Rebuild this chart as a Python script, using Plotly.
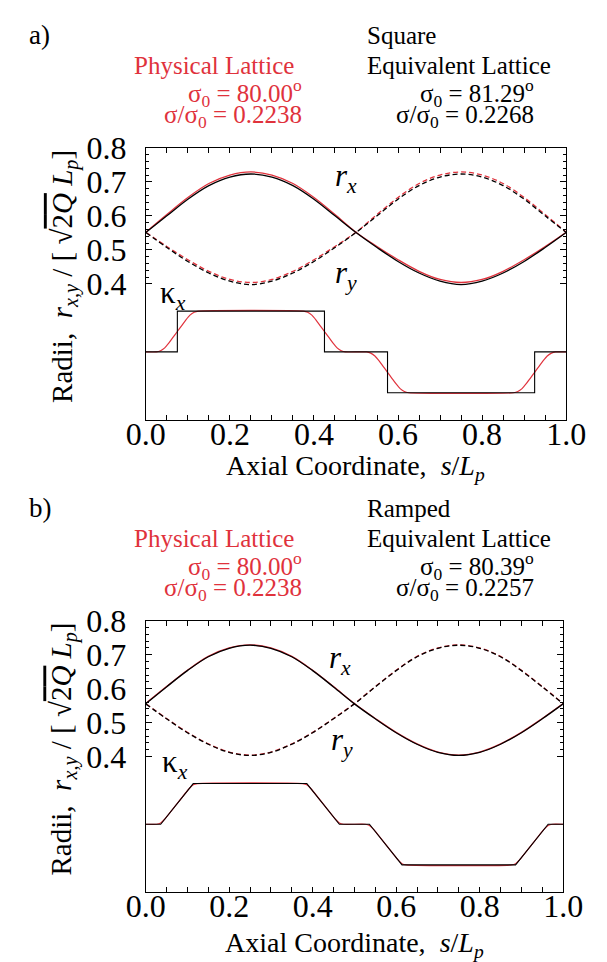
import plotly.graph_objects as go

# ---------------------------------------------------------------
# Envelope radii r_x, r_y in units of sqrt(2Q) L_p over one lattice period
# ---------------------------------------------------------------
s_env = [0.00, 0.05, 0.10, 0.15, 0.20, 0.25, 0.30, 0.35, 0.40, 0.45, 0.50,
         0.55, 0.60, 0.65, 0.70, 0.75, 0.80, 0.85, 0.90, 0.95, 1.00]

# (a) square-edged equivalent lattice vs. physical lattice
a_rx_eq = [0.551, 0.600, 0.649, 0.689, 0.714, 0.723, 0.714, 0.689, 0.649, 0.600, 0.551,
           0.507, 0.466, 0.432, 0.408, 0.398, 0.408, 0.432, 0.466, 0.507, 0.551]
a_ry_eq = [0.551, 0.507, 0.466, 0.432, 0.408, 0.398, 0.408, 0.432, 0.466, 0.507, 0.551,
           0.600, 0.649, 0.689, 0.714, 0.723, 0.714, 0.689, 0.649, 0.600, 0.551]
a_rx_ph = [0.552, 0.604, 0.654, 0.695, 0.720, 0.729, 0.720, 0.695, 0.654, 0.604, 0.552,
           0.510, 0.471, 0.437, 0.413, 0.404, 0.413, 0.437, 0.471, 0.510, 0.552]
a_ry_ph = [0.552, 0.510, 0.471, 0.437, 0.413, 0.404, 0.413, 0.437, 0.471, 0.510, 0.552,
           0.604, 0.654, 0.695, 0.720, 0.729, 0.720, 0.695, 0.654, 0.604, 0.552]

# (b) ramped equivalent lattice vs. physical lattice
b_rx_eq = [0.555, 0.605, 0.653, 0.694, 0.719, 0.728, 0.719, 0.694, 0.653, 0.605, 0.555,
           0.511, 0.470, 0.436, 0.412, 0.403, 0.412, 0.436, 0.470, 0.511, 0.555]
b_ry_eq = [0.555, 0.511, 0.470, 0.436, 0.412, 0.403, 0.412, 0.436, 0.470, 0.511, 0.555,
           0.605, 0.653, 0.694, 0.719, 0.728, 0.719, 0.694, 0.653, 0.605, 0.555]
b_rx_ph = [0.556, 0.606, 0.654, 0.695, 0.720, 0.729, 0.720, 0.695, 0.654, 0.606, 0.556,
           0.512, 0.471, 0.437, 0.413, 0.404, 0.413, 0.437, 0.471, 0.512, 0.556]
b_ry_ph = [0.556, 0.512, 0.471, 0.437, 0.413, 0.404, 0.413, 0.437, 0.471, 0.512, 0.556,
           0.606, 0.654, 0.695, 0.720, 0.729, 0.720, 0.695, 0.654, 0.606, 0.556]

# ---------------------------------------------------------------
# Focusing function kappa_x, normalised to its peak value
# ---------------------------------------------------------------
# (a) hard-edge (square) equivalent: step function
a_kap_eq_s = [0.0, 0.075, 0.425, 0.575, 0.925, 1.0]
a_kap_eq = [0, 1, 0, -1, 0, 0]
# (a) physical lattice with smooth fringe fields
a_kap_ph_s = [0.0, 0.025, 0.035, 0.045, 0.055, 0.065, 0.075, 0.085, 0.095, 0.105, 0.115, 0.125,
              0.375, 0.385, 0.395, 0.405, 0.415, 0.425, 0.435, 0.445, 0.455, 0.465, 0.475,
              0.525, 0.535, 0.545, 0.555, 0.565, 0.575, 0.585, 0.595, 0.605, 0.615, 0.625,
              0.875, 0.885, 0.895, 0.905, 0.915, 0.925, 0.935, 0.945, 0.955, 0.965, 0.975, 1.0]
a_kap_ph = [0, 0, 0.03, 0.10, 0.22, 0.36, 0.50, 0.64, 0.78, 0.90, 0.97, 1,
            1, 0.97, 0.90, 0.78, 0.64, 0.50, 0.36, 0.22, 0.10, 0.03, 0,
            0, -0.03, -0.10, -0.22, -0.36, -0.50, -0.64, -0.78, -0.90, -0.97, -1,
            -1, -0.97, -0.90, -0.78, -0.64, -0.50, -0.36, -0.22, -0.10, -0.03, 0, 0]
# (b) ramped equivalent: trapezoids
b_kap_eq_s = [0.0, 0.036, 0.114, 0.386, 0.464, 0.536, 0.614, 0.886, 0.964, 1.0]
b_kap_eq = [0, 0, 1, 1, 0, 0, -1, -1, 0, 0]
# (b) physical lattice (rounded corners)
b_kap_ph_s = [0.0, 0.026, 0.036, 0.046, 0.104, 0.114, 0.124, 0.376, 0.386, 0.396, 0.454, 0.464, 0.474,
              0.526, 0.536, 0.546, 0.604, 0.614, 0.624, 0.876, 0.886, 0.896, 0.954, 0.964, 0.974, 1.0]
b_kap_ph = [0, 0, 0.03, 0.128, 0.872, 0.97, 1, 1, 0.97, 0.872, 0.128, 0.03, 0,
            0, -0.03, -0.128, -0.872, -0.97, -1, -1, -0.97, -0.872, -0.128, -0.03, 0, 0]

# Axis ticks
x_ticks = [0.0, 0.2, 0.4, 0.6, 0.8, 1.0]
x_ticktext = ["0.0", "0.2", "0.4", "0.6", "0.8", "1.0"]
y_ticks = [0.4, 0.5, 0.6, 0.7, 0.8]
y_ticktext = ["0.4", "0.5", "0.6", "0.7", "0.8"]
y_minor = [0.42, 0.44, 0.46, 0.48, 0.52, 0.54, 0.56, 0.58,
           0.62, 0.64, 0.66, 0.68, 0.72, 0.74, 0.76, 0.78]

# Header text
headers = {
    "a": dict(tag="a)", eq_name="Square", ph_sigma0="80.00", ph_ratio="0.2238",
              eq_sigma0="81.29", eq_ratio="0.2268"),
    "b": dict(tag="b)", eq_name="Ramped", ph_sigma0="80.00", ph_ratio="0.2238",
              eq_sigma0="80.39", eq_ratio="0.2257"),
}

# ---------------------------------------------------------------
W, H = 607, 962
RED = "#e0323c"
BLACK = "#000000"
FONT = "Times New Roman"


def fx(px):
    return px / W


def fy(py):
    return 1 - py / H


fig = go.Figure()


def add_panel(xa, ya, ka, rx_eq, ry_eq, rx_ph, ry_ph,
              kap_eq_s, kap_eq, kap_eq_shape, kap_ph_s, kap_ph, kap_ph_shape):
    common = dict(xaxis=xa, showlegend=False, hoverinfo="skip", mode="lines")
    # physical lattice (red) underneath
    fig.add_trace(go.Scatter(x=kap_ph_s, y=kap_ph, yaxis=ka,
                             line=dict(color=RED, width=1.2, shape=kap_ph_shape, smoothing=0.6),
                             **common))
    fig.add_trace(go.Scatter(x=s_env, y=rx_ph, yaxis=ya,
                             line=dict(color=RED, width=1.3, shape="spline"), **common))
    fig.add_trace(go.Scatter(x=s_env, y=ry_ph, yaxis=ya,
                             line=dict(color=RED, width=1.3, shape="spline", dash="5px,3px"),
                             **common))
    # equivalent lattice (black) on top
    fig.add_trace(go.Scatter(x=kap_eq_s, y=kap_eq, yaxis=ka,
                             line=dict(color=BLACK, width=1.1, shape=kap_eq_shape),
                             **common))
    fig.add_trace(go.Scatter(x=s_env, y=rx_eq, yaxis=ya,
                             line=dict(color=BLACK, width=1.3, shape="spline"), **common))
    fig.add_trace(go.Scatter(x=s_env, y=ry_eq, yaxis=ya,
                             line=dict(color=BLACK, width=1.3, shape="spline", dash="5px,3px"),
                             **common))


add_panel("x", "y", "y3", a_rx_eq, a_ry_eq, a_rx_ph, a_ry_ph,
          a_kap_eq_s, a_kap_eq, "hv", a_kap_ph_s, a_kap_ph, "spline")
add_panel("x2", "y2", "y4", b_rx_eq, b_ry_eq, b_rx_ph, b_ry_ph,
          b_kap_eq_s, b_kap_eq, "linear", b_kap_ph_s, b_kap_ph, "spline")

# Panel frames in pixels: (left, right, top, bottom)
frames = {"a": (134.7, 584.7, 132.3, 409.6), "b": (134.5, 581.5, 614.3, 890.7)}

axis_common = dict(showline=True, linecolor=BLACK, linewidth=1, mirror="allticks",
                   showgrid=False, zeroline=False, ticks="inside", tickcolor=BLACK,
                   tickfont=dict(family=FONT, size=32, color=BLACK))


def xaxis_dict(fr, anchor):
    l, r, t, b = fr
    return dict(domain=[fx(l), fx(r)], range=[0, 1], anchor=anchor,
                tickmode="array", tickvals=x_ticks, ticktext=x_ticktext, ticklen=5,
                ticklabelstandoff=-14,
                minor=dict(tickmode="linear", tick0=0, dtick=0.05, ticklen=3,
                           ticks="inside", tickcolor=BLACK),
                **axis_common)


def yaxis_dict(fr, anchor):
    l, r, t, b = fr
    return dict(domain=[fy(b), fy(t)], range=[0, 0.8], anchor=anchor,
                tickmode="array", tickvals=y_ticks, ticktext=y_ticktext, ticklen=6,
                ticklabelstandoff=12,
                minor=dict(tickmode="array", tickvals=y_minor, ticklen=3,
                           ticks="inside", tickcolor=BLACK),
                **axis_common)


# kappa is drawn on a hidden axis: 0 -> 0.2, +/-1 -> 0.2 +/- 0.12 on the radius scale
kap_range = [(0 - 0.2) / 0.12, (0.8 - 0.2) / 0.12]

fig.update_layout(
    width=W, height=H, margin=dict(l=0, r=0, t=0, b=0),
    paper_bgcolor="white", plot_bgcolor="white",
    font=dict(family=FONT, color=BLACK),
    xaxis=xaxis_dict(frames["a"], "y"),
    yaxis=yaxis_dict(frames["a"], "x"),
    xaxis2=xaxis_dict(frames["b"], "y2"),
    yaxis2=yaxis_dict(frames["b"], "x2"),
    yaxis3=dict(overlaying="y", anchor="x", range=kap_range, visible=False),
    yaxis4=dict(overlaying="y2", anchor="x2", range=kap_range, visible=False),
)

ann = []


def text(x, y, s, size=25, color=BLACK, xanchor="left", xref="paper", yref="paper", angle=0):
    ann.append(dict(x=x, y=y, xref=xref, yref=yref, text=s, showarrow=False,
                    xanchor=xanchor, yanchor="middle", textangle=angle,
                    font=dict(family=FONT, size=size, color=color)))


ytitle = ("Radii,  <i>r</i><sub><i>x,y</i></sub> / [ √"
          "<span style='text-decoration:overline'>2<i>Q</i></span> "
          "<i>L</i><sub><i>p</i></sub>]")
xtitle = "Axial Coordinate,  <i>s</i>/<i>L</i><sub><i>p</i></sub>"

for key, dy in (("a", 0), ("b", 482)):
    h = headers[key]
    l, r, t, b = frames[key]
    text(fx(8), fy(17 + dy), h["tag"], size=27)
    text(fx(369), fy(18 + dy), h["eq_name"])
    text(fx(369), fy(48 + dy), "Equivalent Lattice")
    text(fx(552), fy(76 + dy), "σ<sub>0</sub> = " + h["eq_sigma0"] + "<sup>o</sup>", xanchor="right")
    text(fx(552), fy(100 + dy), "σ/σ<sub>0</sub> = " + h["eq_ratio"], xanchor="right")
    text(fx(296), fy(48 + dy), "Physical Lattice", color=RED, xanchor="right")
    text(fx(304), fy(76 + dy), "σ<sub>0</sub> = " + h["ph_sigma0"] + "<sup>o</sup>",
         color=RED, xanchor="right")
    text(fx(304), fy(100 + dy), "σ/σ<sub>0</sub> = " + h["ph_ratio"], color=RED, xanchor="right")
    # axis titles
    text(fx((l + r) / 2), fy(b + 48 + (5 if key == "b" else 0)), xtitle, size=28, xanchor="center")
    text(fx(47), fy((t + b) / 2 - 8), ytitle, size=29, xanchor="center", angle=-90)

# curve labels (data coordinates)
text(0.445, 0.712, "<i>r</i><sub><i>x</i></sub>", size=31, xref="x", yref="y")
text(0.445, 0.426, "<i>r</i><sub><i>y</i></sub>", size=31, xref="x", yref="y")
text(0.030, 0.366, "κ<sub><i>x</i></sub>", size=31, xref="x", yref="y")
text(0.435, 0.683, "<i>r</i><sub><i>x</i></sub>", size=31, xref="x2", yref="y2")
text(0.440, 0.444, "<i>r</i><sub><i>y</i></sub>", size=31, xref="x2", yref="y2")
text(0.035, 0.377, "κ<sub><i>x</i></sub>", size=31, xref="x2", yref="y2")

fig.update_layout(annotations=ann)
fig.write_html("out.html")
